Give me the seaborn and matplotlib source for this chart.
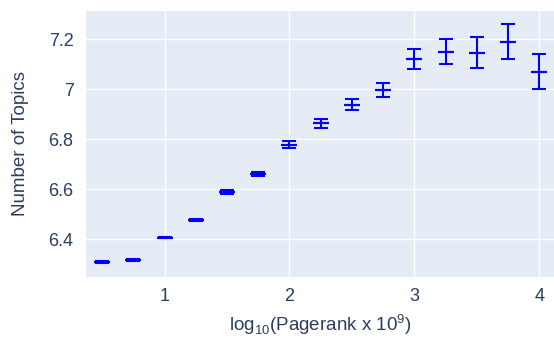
import matplotlib
matplotlib.use("Agg")
import matplotlib.pyplot as plt
import seaborn as sns
import pandas as pd
from matplotlib.ticker import FuncFormatter

log_pagerank = [0.5, 0.75, 1.0, 1.25, 1.5, 1.75, 2.0, 2.25, 2.5, 2.75, 3.0, 3.25, 3.5, 3.75, 4.0]
num_topics = [6.311, 6.317, 6.407, 6.477, 6.589, 6.662, 6.778, 6.865, 6.939, 6.998,
              7.121, 7.151, 7.147, 7.191, 7.071]
err = [0.004, 0.004, 0.004, 0.005, 0.006, 0.009, 0.014, 0.018, 0.023, 0.029,
       0.039, 0.049, 0.062, 0.071, 0.069]

df = pd.DataFrame({"x": log_pagerank, "y": num_topics, "err": err})

sns.set_theme(style="darkgrid", rc={
    "axes.facecolor": "#E5ECF6",
    "grid.color": "white",
    "grid.linewidth": 1.0,
    "axes.edgecolor": "#E5ECF6",
})
plt.rcParams["font.family"] = ["Liberation Sans", "DejaVu Sans"]
plt.rcParams["mathtext.fontset"] = "custom"
plt.rcParams["mathtext.rm"] = "Liberation Sans"

fig = plt.figure(figsize=(5.54, 3.38), dpi=100)
ax = fig.add_axes([86 / 554, 1 - 277 / 338, (554 - 86) / 554, (277 - 11) / 338])

text_color = "#2a3f5f"
ax.errorbar(df["x"], df["y"], yerr=df["err"], fmt="none", ecolor="blue",
            elinewidth=1.5, capsize=4.8, capthick=1.5, zorder=3)
sns.scatterplot(data=df, x="x", y="y", marker="_", s=130, color="blue",
                linewidth=1.6, ax=ax, zorder=4)

ax.set_xlim(0.371, 4.118)
ax.set_ylim(6.249, 7.313)
ax.set_xticks([1, 2, 3, 4])
ax.set_yticks([6.4, 6.6, 6.8, 7.0, 7.2])
ax.yaxis.set_major_formatter(FuncFormatter(lambda v, p: f"{v:g}"))
ax.tick_params(axis="both", labelsize=13, colors=text_color, length=0)
ax.tick_params(axis="x", pad=8)
ax.tick_params(axis="y", pad=9)
for s in ax.spines.values():
    s.set_visible(False)

ax.set_xlabel(r"log$_\mathregular{10}$(Pagerank x 10$^\mathregular{9}$)", fontsize=13.5,
              color=text_color, labelpad=5)
ax.set_ylabel("Number of Topics", fontsize=13.5, color=text_color, labelpad=14)

fig.savefig("out.png", dpi=100)
